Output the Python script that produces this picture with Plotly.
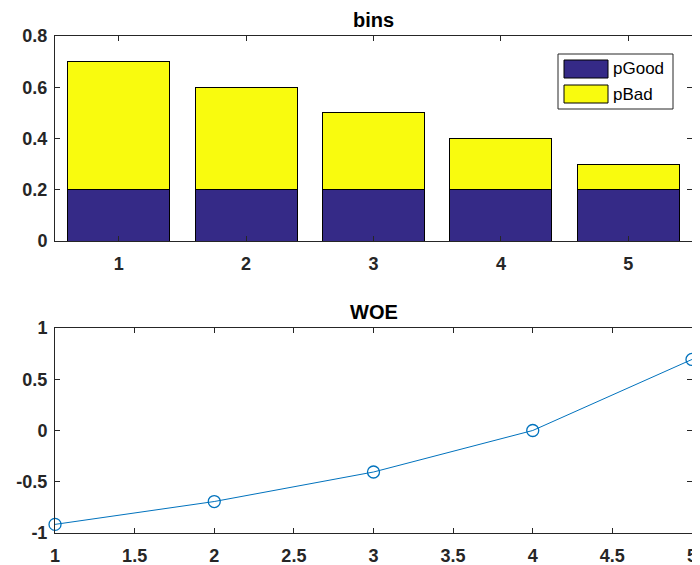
import plotly.graph_objects as go
from plotly.subplots import make_subplots

bins = [1, 2, 3, 4, 5]
p_good = [0.2, 0.2, 0.2, 0.2, 0.2]
p_bad = [0.5, 0.4, 0.3, 0.2, 0.1]
woe_x = [1, 2, 3, 4, 5]
woe = [-0.916, -0.693, -0.405, 0.0, 0.693]

top_ticks = [0, 0.2, 0.4, 0.6, 0.8]
top_labels = ["0", "0.2", "0.4", "0.6", "0.8"]
bot_yticks = [-1, -0.5, 0, 0.5, 1]
bot_ylabels = ["-1", "-0.5", "0", "0.5", "1"]
bot_xticks = [1, 1.5, 2, 2.5, 3, 3.5, 4, 4.5, 5]
bot_xlabels = ["1", "1.5", "2", "2.5", "3", "3.5", "4", "4.5", "5"]

C_GOOD = "#352a87"
C_BAD = "#f9fb0e"
C_LINE = "#0072bd"
AX = "#262626"
FONT = "Liberation Sans"


def bold(labels):
    return ["<b>%s</b>" % s for s in labels]


fig = make_subplots(rows=2, cols=1, vertical_spacing=0)
fig.add_trace(go.Bar(x=bins, y=p_good, name="pGood", marker=dict(color=C_GOOD, line=dict(color="black", width=1)), width=0.8), row=1, col=1)
fig.add_trace(go.Bar(x=bins, y=p_bad, name="pBad", marker=dict(color=C_BAD, line=dict(color="black", width=1)), width=0.8), row=1, col=1)
fig.add_trace(go.Scatter(x=woe_x, y=woe, mode="lines+markers", line=dict(color=C_LINE, width=1),
                         marker=dict(symbol="circle-open", size=12, color=C_LINE, line=dict(width=1.3, color=C_LINE)),
                         showlegend=False, cliponaxis=False), row=2, col=1)

axcommon = dict(showline=True, mirror="ticks", linecolor=AX, linewidth=1, ticks="inside", ticklen=5,
                tickcolor=AX, showgrid=False, zeroline=False, automargin=False,
                tickfont=dict(family=FONT, size=18, color=AX))
xextra = dict(ticklabelstandoff=6)
yextra = dict(ticklabelstandoff=3)

# page body has an 8px default margin, so margins are offset accordingly
fig.update_layout(
    barmode="stack",
    width=700, height=565,
    margin=dict(l=47, r=16, t=28, b=40),
    paper_bgcolor="white", plot_bgcolor="white",
    showlegend=False,
    xaxis=dict(axcommon, **xextra, domain=[0, 1], range=[0.5, 5.5], tickvals=bins, ticktext=bold([str(b) for b in bins])),
    yaxis=dict(axcommon, **yextra, domain=[0.5875, 1], range=[0, 0.8], tickvals=top_ticks, ticktext=bold(top_labels)),
    xaxis2=dict(axcommon, **xextra, domain=[0, 1], range=[0.9999, 5.0001], tickvals=bot_xticks, ticktext=bold(bot_xlabels)),
    yaxis2=dict(axcommon, **yextra, domain=[0, 0.4125], range=[-1.0001, 1.0001], tickvals=bot_yticks, ticktext=bold(bot_ylabels)),
)

# titles
fig.add_annotation(text="<b>bins</b>", xref="x domain", yref="y domain", x=0.5, y=1.0, yshift=3,
                   xanchor="center", yanchor="bottom", showarrow=False, font=dict(family=FONT, size=20, color="black"))
fig.add_annotation(text="<b>WOE</b>", xref="x2 domain", yref="y2 domain", x=0.5, y=1.0, yshift=3,
                   xanchor="center", yanchor="bottom", showarrow=False, font=dict(family=FONT, size=20, color="black"))

# legend box (MATLAB-style)
fig.add_shape(type="rect", xref="paper", yref="paper", x0=(558-55)/637, x1=(673-55)/637,
              y0=(533-109)/497, y1=(533-54)/497, line=dict(color=AX, width=1), fillcolor="white")
for name, color, yc in [("pGood", C_GOOD, 69), ("pBad", C_BAD, 94)]:
    fig.add_shape(type="rect", xref="paper", yref="paper", x0=(564-55)/637, x1=(608-55)/637,
                  y0=(533-(yc+9))/497, y1=(533-(yc-9))/497, line=dict(color="black", width=1), fillcolor=color)
    fig.add_annotation(text=name, xref="paper", yref="paper", x=(611-55)/637, y=(533-yc)/497,
                       xanchor="left", yanchor="middle", showarrow=False,
                       font=dict(family=FONT, size=17, color="black"))

fig.write_html("out.html")
